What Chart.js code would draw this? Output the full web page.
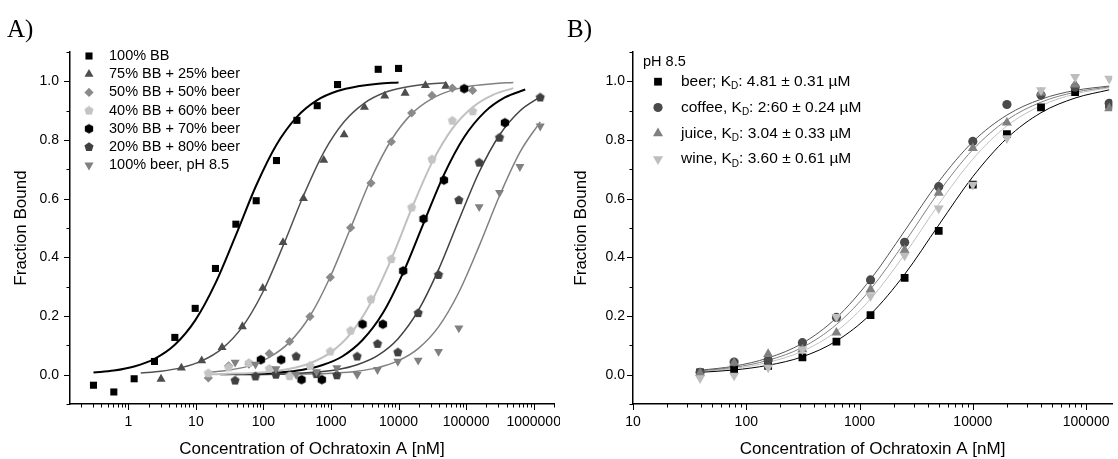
<!DOCTYPE html>
<html>
<head>
<meta charset="utf-8">
<script src="https://cdn.jsdelivr.net/npm/chart.js@4.4.1/dist/chart.umd.min.js"></script>
<style>
  body { margin: 0; background: #fff; width: 1118px; height: 459px; overflow: hidden; position: relative; }
  canvas { position: absolute; top: 0; }
  #chartA { left: 0; }
  #chartB { left: 560px; }
</style>
</head>
<body>
<canvas id="chartA" width="560" height="459"></canvas>
<canvas id="chartB" width="558" height="459"></canvas>
<script>
// ---- panel A: Ochratoxin A binding in buffer / beer mixtures ----
const labelsA = ["100% BB", "75% BB + 25% beer", "50% BB + 50% beer", "40% BB + 60% beer",
  "30% BB + 70% beer", "20% BB + 80% beer", "100% beer, pH 8.5"];

// concentrations (nM), two-fold dilution series
const concA1 = [0.305, 0.61, 1.22, 2.44, 4.88, 9.77, 19.5, 39.1, 78.1, 156, 313, 625, 1250, 2500, 5000, 10000];
const concA2 = [1.53, 3.05, 6.1, 12.2, 24.4, 48.8, 97.7, 195, 391, 781, 1563, 3125, 6250, 12500, 25000, 50000];
const concA3 = [15.3, 30.5, 61, 122, 244, 488, 977, 1953, 3906, 7813, 15625, 31250, 62500, 125000, 250000, 500000];
const concA5 = [22.9, 45.8, 91.6, 183, 366, 732, 1465, 2930, 5859, 11719, 23438, 46875, 93750, 187500, 375000, 750000];
const concA6 = [38.1, 76.3, 153, 305, 610, 1221, 2441, 4883, 9766, 19531, 39063, 78125, 156250, 312500, 625000, 1250000];

// measured fraction bound
const boundA1 = [-0.036, -0.059, -0.014, 0.045, 0.127, 0.226, 0.362, 0.513, 0.593, 0.730, 0.867, 0.917, 0.989, null, 1.041, 1.044];
const boundA2 = [null, -0.015, 0.023, 0.048, 0.093, 0.164, 0.295, 0.451, 0.601, 0.731, 0.818, 0.912, 0.950, 0.960, 0.986, 0.984];
const boundA3 = [-0.011, 0.030, 0.036, 0.072, 0.113, 0.198, 0.332, 0.501, 0.653, 0.794, 0.892, 0.952, 0.977, 0.969, null, null];
const boundA4 = [0.005, 0.025, 0.040, 0.020, -0.005, 0.030, 0.079, 0.150, 0.257, 0.394, 0.570, 0.734, 0.866, 0.898, null, null];
const boundA5 = [null, null, 0.051, 0.051, -0.017, -0.017, null, 0.172, 0.172, 0.354, 0.531, 0.663, 0.975, null, 0.859, null];
const boundA6 = [-0.020, -0.006, 0.000, 0.062, 0.002, -0.002, 0.062, 0.105, 0.076, 0.210, 0.340, 0.595, 0.723, 0.808, null, 0.945];
const boundA7 = [0.042, 0.035, 0.020, 0.000, 0.010, 0.023, 0.000, 0.017, 0.045, 0.049, 0.079, 0.159, 0.572, 0.621, 0.709, 0.847];

// fitted curves, read at the same concentrations
const fitA1 = [0.007, 0.014, 0.028, 0.054, 0.102, 0.185, 0.312, 0.476, 0.645, 0.784, 0.879, 0.936, 0.967, 0.983, 0.992, 0.996];
const fitA2 = [0.006, 0.012, 0.024, 0.047, 0.089, 0.163, 0.281, 0.439, 0.610, 0.758, 0.862, 0.926, 0.962, 0.980, 0.990, 0.995];
const fitA3 = [0.008, 0.015, 0.030, 0.059, 0.111, 0.200, 0.334, 0.500, 0.667, 0.800, 0.889, 0.941, 0.970, 0.985, 0.992, 0.996];
const fitA4 = [0.001, 0.003, 0.005, 0.010, 0.020, 0.039, 0.075, 0.140, 0.246, 0.394, 0.566, 0.723, 0.839, 0.912, 0.954, 0.977];
const fitA5 = [0.001, 0.002, 0.004, 0.008, 0.016, 0.032, 0.062, 0.118, 0.210, 0.348, 0.516, 0.681, 0.810, 0.895, 0.945, 0.972];
const fitA6 = [0.001, 0.001, 0.002, 0.004, 0.009, 0.017, 0.034, 0.065, 0.122, 0.218, 0.358, 0.527, 0.691, 0.817, 0.899, 0.947];
const fitA7 = [0.000, 0.000, 0.001, 0.002, 0.003, 0.006, 0.012, 0.024, 0.047, 0.089, 0.163, 0.281, 0.439, 0.610, 0.758, 0.862];

// ---- panel B: different matrices at pH 8.5 ----
const legendTitleB = "pH 8.5";
const namesB = ["beer; K", "coffee, K", "juice, K", "wine, K"];
const kdB = [": 4.81 \u00b1 0.31 \u00b5M", ": 2:60 \u00b1 0.24 \u00b5M", ": 3.04 \u00b1 0.33 \u00b5M", ": 3.60 \u00b1 0.61 \u00b5M"];
const concB = [39.1, 78.1, 156, 313, 625, 1250, 2500, 5000, 10000, 20000, 40000, 80000, 160000];
const beer   = [0.008, 0.018, 0.030, 0.059, 0.113, 0.203, 0.330, 0.490, 0.648, 0.820, 0.911, 0.963, 0.920];
const coffee = [0.008, 0.043, 0.050, 0.109, 0.195, 0.323, 0.451, 0.641, 0.795, 0.921, 0.953, 0.980, 0.925];
const juice  = [0.005, 0.040, 0.070, 0.086, 0.143, 0.290, 0.425, 0.620, 0.772, 0.859, 0.962, 0.989, 0.908];
const wine   = [-0.012, -0.003, 0.025, 0.086, 0.197, 0.268, 0.406, 0.567, 0.648, 0.806, 0.970, 1.015, 1.009];
const fitBeer   = [0.008, 0.016, 0.032, 0.061, 0.115, 0.206, 0.342, 0.510, 0.675, 0.806, 0.893, 0.943, 0.971];
const fitCoffee = [0.015, 0.029, 0.057, 0.107, 0.194, 0.325, 0.490, 0.658, 0.794, 0.885, 0.939, 0.969, 0.984];
const fitJuice  = [0.013, 0.025, 0.049, 0.093, 0.171, 0.291, 0.451, 0.622, 0.767, 0.868, 0.929, 0.963, 0.981];
const fitWine   = [0.011, 0.021, 0.042, 0.080, 0.148, 0.258, 0.410, 0.581, 0.735, 0.848, 0.917, 0.957, 0.978];

const FONT = '"Liberation Sans", Arial, sans-serif';

// pentagon / hexagon markers (not built into Chart.js)
function polyMarker(sides, r, color) {
  const c = document.createElement("canvas");
  const s = Math.ceil(r * 2 + 2);
  c.width = s; c.height = s;
  const g = c.getContext("2d");
  g.fillStyle = color;
  g.beginPath();
  for (let i = 0; i < sides; i++) {
    const a = i * 2 * Math.PI / sides;
    const px = s / 2 + r * Math.sin(a), py = s / 2 - r * Math.cos(a);
    if (i) g.lineTo(px, py); else g.moveTo(px, py);
  }
  g.closePath();
  g.fill();
  return c;
}

function pts(xs, ys) {
  const out = [];
  xs.forEach((x, i) => { if (ys[i] !== null) out.push({ x, y: ys[i] }); });
  return out;
}

const seriesA = [
  { x: concA1, y: boundA1, fit: fitA1, color: "#000000", line: "#000000", lw: 2, style: "rect", r: 5 },
  { x: concA2, y: boundA2, fit: fitA2, color: "#4d4d4d", line: "#505050", lw: 1.5, style: "triangle", r: 5.2 },
  { x: concA3, y: boundA3, fit: fitA3, color: "#8a8a8a", line: "#808080", lw: 1.5, style: "rectRot", r: 4.6 },
  { x: concA3, y: boundA4, fit: fitA4, color: "#c4c4c4", line: "#c0c0c0", lw: 2, style: polyMarker(5, 4.8, "#c4c4c4"), r: 4.8 },
  { x: concA5, y: boundA5, fit: fitA5, color: "#000000", line: "#000000", lw: 2, style: polyMarker(6, 4.8, "#000000"), r: 4.8 },
  { x: concA6, y: boundA6, fit: fitA6, color: "#404040", line: "#404040", lw: 1.5, style: polyMarker(5, 4.8, "#404040"), r: 4.8 },
  { x: concA6, y: boundA7, fit: fitA7, color: "#808080", line: "#808080", lw: 1.5, style: "triangle", rot: 180, r: 5.2 }
];

const seriesB = [
  { x: concB, y: beer, fit: fitBeer, color: "#000000", line: "#000000", style: "rect", r: 5.5 },
  { x: concB, y: coffee, fit: fitCoffee, color: "#4a4a4a", line: "#555555", style: "circle", r: 4.6 },
  { x: concB, y: juice, fit: fitJuice, color: "#808080", line: "#808080", style: "triangle", r: 5.8 },
  { x: concB, y: wine, fit: fitWine, color: "#bdbdbd", line: "#c0c0c0", style: "triangle", rot: 180, r: 5.8 }
];

function buildDatasets(series, curveWidth) {
  const sets = [];
  series.forEach((s, i) => {
    sets.push({
      data: pts(s.x, s.fit), showLine: true, borderColor: s.line,
      borderWidth: s.lw || curveWidth, pointRadius: 0, cubicInterpolationMode: "monotone",
      fill: false, order: 100 + i
    });
  });
  series.forEach((s, i) => {
    sets.push({
      data: pts(s.x, s.y), showLine: false, pointStyle: s.style, pointRadius: s.r,
      pointRotation: s.rot || 0, pointBackgroundColor: s.color, pointBorderWidth: 0,
      order: 50 - i
    });
  });
  return sets;
}

function logTicks(min, max) {
  const out = [];
  for (let e = Math.floor(Math.log10(min)); e <= Math.ceil(Math.log10(max)); e++) {
    for (let m = 1; m <= 9; m++) {
      const v = m * Math.pow(10, e);
      if (v >= min && v <= max) out.push({ value: v, major: m === 1 });
    }
  }
  return out;
}

function axes(xmin, xmax, yWidth, yPad) {
  return {
    x: {
      type: "logarithmic", min: xmin, max: xmax,
      afterBuildTicks: s => { s.ticks = logTicks(xmin, xmax); },
      afterFit: s => { s.height = 55; },
      grid: { drawOnChartArea: false, drawTicks: true, tickLength: 6, tickColor: "rgba(0,0,0,0)" },
      border: { display: true, color: "#000", width: 1.5 },
      ticks: {
        autoSkip: false, maxRotation: 0, padding: 4, color: "#000", font: { family: FONT, size: 14 },
        callback: (v, i, t) => t[i].major ? String(Math.round(v)) : ""
      },
      title: { display: true, text: "Concentration of Ochratoxin A [nM]", color: "#000",
        font: { family: FONT, size: 17, lineHeight: 1.1 }, padding: { top: 0, bottom: 0 } }
    },
    y: {
      min: -0.1, max: 1.1,
      afterBuildTicks: s => {
        const t = [];
        for (let k = -1; k <= 11; k++) t.push({ value: k / 10, major: k % 2 === 0 });
        s.ticks = t;
      },
      afterFit: s => { s.width = yWidth; },
      grid: { drawOnChartArea: false, drawTicks: true, tickLength: 6, tickColor: "rgba(0,0,0,0)" },
      border: { display: true, color: "#000", width: 1.5 },
      ticks: {
        padding: yPad, color: "#000", font: { family: FONT, size: 14 },
        callback: (v, i, t) => t[i].major ? v.toFixed(1) : ""
      },
      title: { display: true, text: "Fraction Bound", color: "#000",
        font: { family: FONT, size: 17, lineHeight: 1.1 }, padding: { top: 12, bottom: 0 } }
    }
  };
}

function marker(ctx, s, x, y) {
  ctx.fillStyle = s.color;
  Chart.helpers.drawPoint(ctx, { pointStyle: s.style, radius: s.r, rotation: s.rot || 0, borderWidth: 0 }, x, y);
}

function drawKd(ctx, x, y, pre, post) {
  ctx.font = "15.5px " + FONT;
  ctx.fillText(pre, x, y);
  x += ctx.measureText(pre).width;
  ctx.font = "10px " + FONT;
  ctx.fillText("D", x, y + 5);
  x += ctx.measureText("D").width;
  ctx.font = "15.5px " + FONT;
  ctx.fillText(post, x, y);
}

// tick marks, panel letter and in-plot legend
const panelPlugin = {
  id: "panel",
  afterDraw(chart, args, opts) {
    const ctx = chart.ctx;
    const xs = chart.scales.x, ys = chart.scales.y;
    ctx.save();
    ctx.strokeStyle = "#000";
    ctx.lineWidth = 1;
    ctx.beginPath();
    xs.ticks.forEach(t => {
      const px = Math.round(xs.getPixelForValue(t.value)) + 0.5;
      ctx.moveTo(px, ys.bottom);
      ctx.lineTo(px, ys.bottom + (t.major ? 6 : 3.5));
    });
    ys.ticks.forEach(t => {
      const py = Math.round(ys.getPixelForValue(t.value)) + 0.5;
      ctx.moveTo(xs.left, py);
      ctx.lineTo(xs.left - (t.major ? 6 : 3.5), py);
    });
    ctx.stroke();

    ctx.fillStyle = "#000";
    ctx.font = '25px "Liberation Serif", "Times New Roman", serif';
    ctx.textBaseline = "alphabetic";
    ctx.fillText(opts.tag, opts.tagX, 37);

    ctx.textBaseline = "middle";
    if (opts.kind === "A") {
      seriesA.forEach((s, i) => {
        const y = 56 + i * 18.2;
        marker(ctx, s, 89, y);
        ctx.fillStyle = "#000";
        ctx.font = "14.5px " + FONT;
        ctx.fillText(labelsA[i], 109, y);
      });
    } else {
      ctx.font = "14.5px " + FONT;
      ctx.fillText(legendTitleB, 83, 62);
      seriesB.forEach((s, i) => {
        const y = 81.7 + i * 25.8;
        marker(ctx, s, 98, y);
        ctx.fillStyle = "#000";
        drawKd(ctx, 121, y, namesB[i], kdB[i]);
      });
    }
    ctx.restore();
  }
};

const common = {
  responsive: false, animation: false, events: [], devicePixelRatio: 1,
  plugins: { legend: { display: false }, tooltip: { enabled: false } }
};

new Chart(document.getElementById("chartA"), {
  type: "scatter",
  data: { datasets: buildDatasets(seriesA, 1.5) },
  options: Object.assign({}, common, {
    layout: { padding: { top: 52, right: 6, left: 0, bottom: 0 } },
    plugins: Object.assign({}, common.plugins, { panel: { tag: "A)", tagX: 7, kind: "A" } }),
    scales: axes(0.137, 2000000, 70, 5)
  }),
  plugins: [panelPlugin]
});

new Chart(document.getElementById("chartB"), {
  type: "scatter",
  data: { datasets: buildDatasets(seriesB, 1) },
  options: Object.assign({}, common, {
    layout: { padding: { top: 52, right: 1, left: 0, bottom: 0 } },
    plugins: Object.assign({}, common.plugins, { panel: { tag: "B)", tagX: 7, kind: "B" } }),
    scales: axes(10, 170000, 73, 2)
  }),
  plugins: [panelPlugin]
});
</script>
</body>
</html>
